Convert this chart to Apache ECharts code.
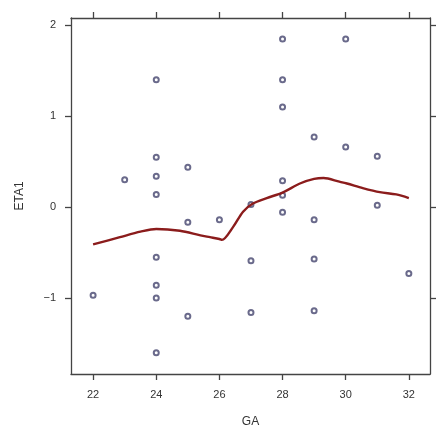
<!DOCTYPE html>
<html>
<head>
<meta charset="utf-8">
<script src="https://cdn.jsdelivr.net/npm/echarts@6/dist/echarts.min.js"></script>
<style>
  html, body { margin: 0; padding: 0; background: #fff; }
  #chart { width: 436px; height: 436px; }
</style>
</head>
<body>
<div id="chart"></div>
<script>
// Observed random effects (ETA1) by gestational age (GA)
const gaValues = [22, 23, 24, 24, 24, 24, 24, 24, 24, 24, 25, 25, 25, 26, 27, 27, 27,
                  28, 28, 28, 28, 28, 28, 29, 29, 29, 29, 30, 30, 31, 31, 32];
const etaValues = [-0.97, 0.30, 1.40, 0.55, 0.34, 0.14, -0.55, -0.86, -1.00, -1.60,
                   0.44, -0.165, -1.20, -0.14, 0.03, -0.59, -1.16,
                   1.85, 1.40, 1.10, 0.29, 0.13, -0.055,
                   0.77, -0.14, -0.57, -1.14, 1.85, 0.66, 0.56, 0.02, -0.73];

// Smoothed trend (loess) through the points
const smoothGA  = [22.0, 22.85, 23.5, 24.0, 24.75, 25.4, 25.7, 26.0, 26.08, 26.43, 26.75,
                   27.06, 27.5, 28.0, 28.55, 29.0, 29.3, 29.8, 30.04, 30.54, 31.08, 31.6, 32.0];
const smoothETA = [-0.41, -0.33, -0.27, -0.24, -0.26, -0.31, -0.33, -0.35, -0.36, -0.22, -0.05,
                   0.04, 0.10, 0.16, 0.26, 0.31, 0.32, 0.28, 0.26, 0.21, 0.165, 0.14, 0.10];

const xTicks = [22, 24, 26, 28, 30, 32];
const yTicks = [-1, 0, 1, 2];

const axisColor = '#444';
const font = 'Liberation Sans, Arial, sans-serif';

const points = gaValues.map((g, i) => [g, etaValues[i]]);
const curve = smoothGA.map((g, i) => [g, smoothETA[i]]);

function xAxisDef(pos, showLabels) {
  return {
    type: 'value', position: pos, min: 21.3, max: 32.67,
    axisLine: { show: true, onZero: false, lineStyle: { color: axisColor, width: 1.3 } },
    axisTick: { show: true, inside: false, length: 6, customValues: xTicks,
                lineStyle: { color: axisColor, width: 1.3 } },
    axisLabel: { show: showLabels, customValues: xTicks, color: '#333', fontSize: 11,
                 fontFamily: font, margin: 15 },
    splitLine: { show: false },
    name: showLabels ? 'GA' : '', nameLocation: 'middle', nameGap: 42,
    nameTextStyle: { color: '#333', fontSize: 12, fontFamily: font }
  };
}
function yAxisDef(pos, showLabels) {
  return {
    type: 'value', position: pos, min: -1.835, max: 2.08,
    axisLine: { show: true, onZero: false, lineStyle: { color: axisColor, width: 1.3 } },
    axisTick: { show: true, inside: false, length: 6, customValues: yTicks,
                lineStyle: { color: axisColor, width: 1.3 } },
    axisLabel: { show: showLabels, customValues: yTicks, color: '#333', fontSize: 11,
                 fontFamily: font, margin: 15,
                 formatter: v => (v < 0 ? '\u2212' + Math.abs(v) : String(v)) },
    splitLine: { show: false },
    name: showLabels ? 'ETA1' : '', nameLocation: 'middle', nameGap: 45, nameRotate: 90,
    nameTextStyle: { color: '#333', fontSize: 12, fontFamily: font }
  };
}

const chart = echarts.init(document.getElementById('chart'), null, { renderer: 'canvas' });
chart.setOption({
  animation: false,
  backgroundColor: '#fff',
  grid: { left: 71, right: 6, top: 18, bottom: 62, containLabel: false },
  xAxis: [xAxisDef('bottom', true), xAxisDef('top', false)],
  yAxis: [yAxisDef('left', true), yAxisDef('right', false)],
  series: [
    {
      type: 'scatter', xAxisIndex: 0, yAxisIndex: 0, data: points,
      symbol: 'emptyCircle', symbolSize: 5,
      itemStyle: { color: '#45456e', borderWidth: 1.1 },
      z: 2
    },
    {
      type: 'line', xAxisIndex: 0, yAxisIndex: 0, data: curve,
      smooth: 0.3, showSymbol: false, symbol: 'none',
      lineStyle: { color: '#8b1c1c', width: 2.4 },
      z: 3
    }
  ]
});
</script>
</body>
</html>
